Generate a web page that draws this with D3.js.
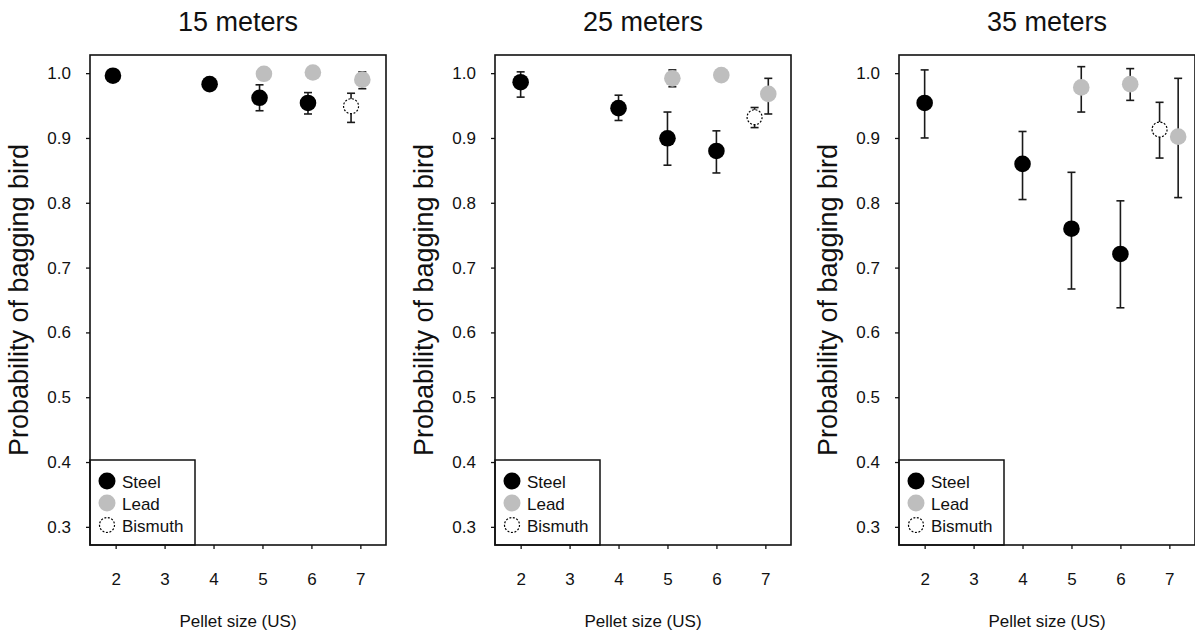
<!DOCTYPE html>
<html>
<head>
<meta charset="utf-8">
<script src="https://cdn.jsdelivr.net/npm/d3@7"></script>
<style>
  body { margin: 0; background: #fff; }
  svg text { font-family: "Liberation Sans", Arial, sans-serif; fill: #111; }
</style>
</head>
<body>
<div class="canvas"></div>
<script>
// panel titles and axis ticks
const distances = ['15 meters', '25 meters', '35 meters'];
const pelletTicks = [2, 3, 4, 5, 6, 7];
const probTicks = [0.3, 0.4, 0.5, 0.6, 0.7, 0.8, 0.9, 1.0];
const materials = ['Steel', 'Lead', 'Bismuth'];

// steel: pellet sizes 2,4,5,6 (plotted positions per panel)
const steelPos = [[1.945, 3.92, 4.94, 5.93], [2.0, 4.0, 5.0, 6.0], [2.0, 4.0, 5.0, 6.0]];
const steelP   = [[0.996, 0.983, 0.962, 0.954], [0.986, 0.946, 0.8995, 0.880], [0.954, 0.860, 0.760, 0.721]];
const steelLo  = [[0.990, 0.977, 0.942, 0.937], [0.963, 0.927, 0.858, 0.846], [0.900, 0.805, 0.667, 0.638]];
const steelHi  = [[1.000, 0.989, 0.982, 0.970], [1.002, 0.966, 0.940, 0.911], [1.005, 0.910, 0.847, 0.803]];

// lead: pellet sizes 5,6,7
const leadPos = [[5.03, 6.03, 7.04], [5.1, 6.1, 7.06], [5.2, 6.2, 7.18]];
const leadP   = [[0.999, 1.001, 0.990], [0.992, 0.997, 0.968], [0.978, 0.983, 0.902]];
const leadLo  = [[0.997, 0.999, 0.976], [0.979, 0.995, 0.937], [0.940, 0.958, 0.808]];
const leadHi  = [[1.001, 1.003, 1.002], [1.005, 0.999, 0.992], [1.010, 1.007, 0.992]];

// bismuth: pellet size 7
const bismuthPos = [6.81, 6.78, 6.8];
const bismuthP   = [0.949, 0.932, 0.913];
const bismuthLo  = [0.924, 0.916, 0.869];
const bismuthHi  = [0.969, 0.947, 0.955];

const svg = d3.select('.canvas')
  .append('svg')
  .attr('width', 1195)
  .attr('height', 640);

const panelLefts = [90, 495, 899];
const boxW = 296;
const boxTop = 55;
const boxBottom = 545;

const y = d3.scaleLinear()
  .domain([0.272, 1.028])
  .range([boxBottom, boxTop]);

const styles = {
  Steel:   {fill: '#000', stroke: 'none', dash: null},
  Lead:    {fill: '#bebebe', stroke: 'none', dash: null},
  Bismuth: {fill: '#fff', stroke: '#000', dash: '2,1.6'}
};

distances.forEach((title, i) => {
  const left = panelLefts[i];
  const x = d3.scaleLinear()
    .domain([1.476, 7.524])
    .range([left, left + boxW]);

  const g = svg.append('g');

  // title
  g.append('text')
    .attr('x', left + boxW / 2)
    .attr('y', 31)
    .attr('text-anchor', 'middle')
    .attr('font-size', '27px')
    .text(title);

  // axes
  const yAxis = d3.axisLeft(y).tickValues(probTicks).tickSize(4).tickPadding(15)
    .tickFormat(d3.format('.1f'));
  const yg = g.append('g').attr('transform', `translate(${left},0)`).call(yAxis);
  const xAxis = d3.axisBottom(x).tickValues(pelletTicks).tickSize(4).tickPadding(24)
    .tickFormat(d3.format('d'));
  const xg = g.append('g').attr('transform', `translate(0,${boxBottom})`).call(xAxis);
  [yg, xg].forEach(a => {
    a.select('.domain').remove();
    a.selectAll('.tick line').attr('stroke', '#111').attr('stroke-width', 1.3);
    a.selectAll('.tick text').attr('font-size', '17px').attr('font-family', '"Liberation Sans", Arial, sans-serif').attr('fill', '#111');
  });

  // axis titles
  g.append('text')
    .attr('transform', `translate(${left - 62},${(boxTop + boxBottom) / 2}) rotate(-90)`)
    .attr('text-anchor', 'middle')
    .attr('font-size', '27px')
    .text('Probability of bagging bird');
  g.append('text')
    .attr('x', left + boxW / 2)
    .attr('y', 627)
    .attr('text-anchor', 'middle')
    .attr('font-size', '17px')
    .text('Pellet size (US)');

  // data rows for this panel
  const rows = [];
  steelPos[i].forEach((p, j) => rows.push({m: 'Steel', x: p, p: steelP[i][j], lo: steelLo[i][j], hi: steelHi[i][j]}));
  leadPos[i].forEach((p, j) => rows.push({m: 'Lead', x: p, p: leadP[i][j], lo: leadLo[i][j], hi: leadHi[i][j]}));
  rows.push({m: 'Bismuth', x: bismuthPos[i], p: bismuthP[i], lo: bismuthLo[i], hi: bismuthHi[i]});

  // error bars
  const bars = g.selectAll('.err').data(rows).enter().append('g').attr('class', 'err')
    .attr('stroke', '#1a1a1a').attr('stroke-width', 1.6);
  bars.append('line')
    .attr('x1', d => x(d.x)).attr('x2', d => x(d.x))
    .attr('y1', d => y(d.lo)).attr('y2', d => y(d.hi));
  bars.append('line')
    .attr('x1', d => x(d.x) - 4).attr('x2', d => x(d.x) + 4)
    .attr('y1', d => y(d.lo)).attr('y2', d => y(d.lo));
  bars.append('line')
    .attr('x1', d => x(d.x) - 4).attr('x2', d => x(d.x) + 4)
    .attr('y1', d => y(d.hi)).attr('y2', d => y(d.hi));

  // points
  g.selectAll('.pt').data(rows).enter().append('circle').attr('class', 'pt')
    .attr('cx', d => x(d.x))
    .attr('cy', d => y(d.p))
    .attr('r', d => d.m === 'Bismuth' ? 7.5 : 8.3)
    .attr('fill', d => styles[d.m].fill)
    .attr('stroke', d => styles[d.m].stroke)
    .attr('stroke-width', 1.2)
    .attr('stroke-dasharray', d => styles[d.m].dash);

  // legend
  const lg = g.append('g');
  lg.append('rect')
    .attr('x', left).attr('y', 460)
    .attr('width', 105).attr('height', boxBottom - 460)
    .attr('fill', '#fff').attr('stroke', '#111').attr('stroke-width', 1.5);
  materials.forEach((m, k) => {
    const cy = 481 + k * 22;
    lg.append('circle')
      .attr('cx', left + 17).attr('cy', cy)
      .attr('r', m === 'Bismuth' ? 7.5 : 8.5)
      .attr('fill', styles[m].fill)
      .attr('stroke', styles[m].stroke)
      .attr('stroke-width', 1.2)
      .attr('stroke-dasharray', styles[m].dash);
    lg.append('text')
      .attr('x', left + 32).attr('y', cy + 6.5)
      .attr('font-size', '17px')
      .text(m);
  });

  // plot box
  g.append('rect')
    .attr('x', left).attr('y', boxTop)
    .attr('width', boxW).attr('height', boxBottom - boxTop)
    .attr('fill', 'none').attr('stroke', '#111').attr('stroke-width', 1.6);
});
</script>
</body>
</html>
